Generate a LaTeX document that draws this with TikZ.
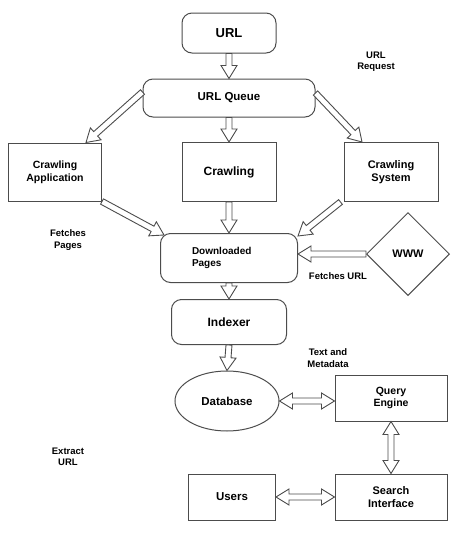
\documentclass[tikz,border=0pt]{standalone}
\usepackage{fontspec}
\setmainfont{Liberation Sans}
\usetikzlibrary{calc,shapes.geometric}

\newcommand{\fsz}[1]{\fontsize{#1}{1.2\dimexpr#1\relax}\selectfont\bfseries}

\tikzset{
  box/.style={draw=black!70, line width=1pt, align=center, inner sep=0pt},
  roundbox/.style={box, rounded corners=10pt},
  note/.style={align=center, inner sep=0pt, font=\fsz{9.5pt}},
  blockarrow/.style={draw=black!70, line width=0.9pt, fill=white, line join=miter,
    to path={
      ($(\tikztostart)!3pt!90:(\tikztotarget)$)
      -- ($(\tikztotarget)!13pt!(\tikztostart)!3pt!-90:(\tikztostart)$)
      -- ($(\tikztotarget)!13pt!(\tikztostart)!8pt!-90:(\tikztostart)$)
      -- (\tikztotarget)
      -- ($(\tikztotarget)!13pt!(\tikztostart)!8pt!90:(\tikztostart)$)
      -- ($(\tikztotarget)!13pt!(\tikztostart)!3pt!90:(\tikztostart)$)
      -- ($(\tikztostart)!3pt!-90:(\tikztotarget)$)
      -- cycle}},
  dblockarrow/.style={draw=black!70, line width=0.9pt, fill=white, line join=miter,
    to path={
      (\tikztostart)
      -- ($(\tikztostart)!13pt!(\tikztotarget)!8pt!90:(\tikztotarget)$)
      -- ($(\tikztostart)!13pt!(\tikztotarget)!3pt!90:(\tikztotarget)$)
      -- ($(\tikztotarget)!13pt!(\tikztostart)!3pt!-90:(\tikztostart)$)
      -- ($(\tikztotarget)!13pt!(\tikztostart)!8pt!-90:(\tikztostart)$)
      -- (\tikztotarget)
      -- ($(\tikztotarget)!13pt!(\tikztostart)!8pt!90:(\tikztostart)$)
      -- ($(\tikztotarget)!13pt!(\tikztostart)!3pt!90:(\tikztostart)$)
      -- ($(\tikztostart)!13pt!(\tikztotarget)!3pt!-90:(\tikztotarget)$)
      -- ($(\tikztostart)!13pt!(\tikztotarget)!8pt!-90:(\tikztotarget)$)
      -- cycle}}
}

\begin{document}
\begin{tikzpicture}[x=1pt, y=-1pt]
        \useasboundingbox (0, 0) rectangle (453, 539);

        \node[roundbox, minimum width=94pt, minimum height=40pt, font=\fsz{13pt}] (url) at (229, 33) {URL};
        \node[roundbox, minimum width=172pt, minimum height=38pt, font=\fsz{11.5pt}] (queue) at (229, 98) {URL Queue};
        \node[box, minimum width=93pt, minimum height=58pt, font=\fsz{10.5pt}] (crapp) at (55, 172) {Crawling\\Application};
        \node[box, minimum width=94pt, minimum height=59pt, font=\fsz{12pt}] (crawl) at (229, 172) {Crawling};
        \node[box, minimum width=94pt, minimum height=59pt, font=\fsz{11pt}] (crsys) at (391, 172) {Crawling\\System};
        \node[roundbox, minimum width=137pt, minimum height=49pt, text width=74pt, align=left, font=\fsz{10pt}] (pages) at (229, 258) {Downloaded\\Pages};
        \node[box, diamond, aspect=1, minimum size=83pt, font=\fsz{11pt}] (www) at (408, 254) {WWW};
        \node[roundbox, minimum width=115pt, minimum height=45pt, font=\fsz{12pt}] (indexer) at (229, 322) {Indexer};
        \node[box, ellipse, minimum width=104pt, minimum height=60pt, font=\fsz{11.5pt}] (db) at (227, 401) {Database};
        \node[box, minimum width=112pt, minimum height=46pt, font=\fsz{10.5pt}] (query) at (391, 398) {Query\\Engine};
        \node[box, minimum width=112pt, minimum height=46pt, font=\fsz{11pt}] (search) at (391, 497) {Search\\Interface};
        \node[box, minimum width=87pt, minimum height=46pt, font=\fsz{11.5pt}] (users) at (232, 497) {Users};

        \node[note] (request) at (376, 62) {URL\\Request};
        \node[note] (fpages) at (68, 240) {Fetches\\Pages};
        \node[note] (furl) at (338, 276) {Fetches URL};
        \node[note] (meta) at (328, 358) {Text and\\Metadata};
        \node[note] (extract) at (68, 457) {Extract\\URL};

        \draw[blockarrow] (url.south) to (queue.north);
        \draw[blockarrow] ([yshift=6pt]queue.west) to ([xshift=31pt]crapp.north);
        \draw[blockarrow] (queue.south) to (crawl.north);
        \draw[blockarrow] ([yshift=5pt]queue.east) to ([xshift=-29pt]crsys.north);
        \draw[blockarrow] (crapp.south east) to ([xshift=4pt, yshift=-2pt]pages.north west);
        \draw[blockarrow] (crawl.south) to (pages.north);
        \draw[blockarrow] ([xshift=-3pt]crsys.south west) to ([yshift=-3pt]pages.north east);
        \draw[blockarrow] (www.west) to (www.west -| pages.east);
        \draw[blockarrow] (pages.south) to (indexer.north);
        \draw[blockarrow] (indexer.south) to (db.north);
        \draw[dblockarrow] (db.east) to (db.east -| query.west);
        \draw[dblockarrow] (query.south) to (search.north);
        \draw[dblockarrow] (users.east) to (search.west);

    \end{tikzpicture}
\end{document}
